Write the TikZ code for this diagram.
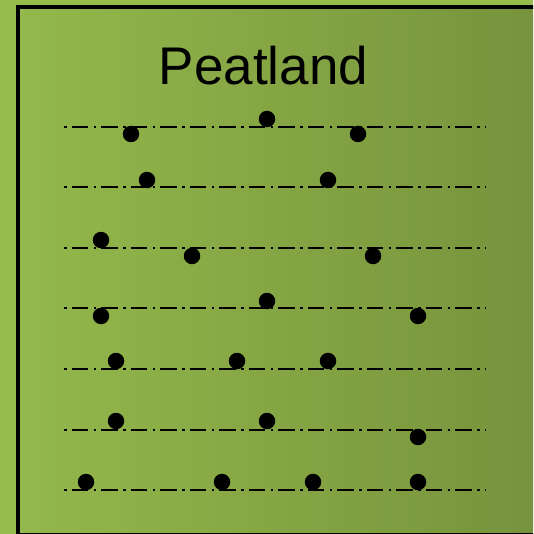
\documentclass[tikz,border=0pt]{standalone}
\usepackage{fontspec}
\setmainfont{Liberation Sans}
\usetikzlibrary{positioning}
\definecolor{peatlight}{RGB}{147, 184, 75}
\definecolor{peatdark}{RGB}{118, 145, 60}
\definecolor{peatout}{RGB}{150, 187, 77}
\tikzset{
  frame/.style={draw=black, line width=4pt, left color=peatlight, right color=peatdark},
  layerline/.style={line width=2.2pt, dash pattern=on 2.5pt off 5pt on 16.5pt off 5.5pt},
  dot/.style={circle, fill=black, inner sep=0pt, minimum size=16.5pt},
  title/.style={font=\fontsize{53}{60}\selectfont, inner sep=0pt, anchor=base}
}
\begin{document}
\begin{tikzpicture}[x=1pt, y=-1pt]

  \useasboundingbox (0,0) rectangle (533,534);
  \fill[peatout] (0,0) rectangle (533,534);
  \clip (0,0) rectangle (533,534);

  \draw[frame] (18,7) rectangle (560,535.3);
  \node[title] (name) at (263.5,85) {Peatland};

  % soil layers
  \foreach \ly in {127,187,248,308,369,430,490}
    \draw[layerline] (64,\ly) -- (486,\ly);

  % samples
  \node[dot] (d1a) at (131,134) {};
  \node[dot] (d1b) at (267,119) {};
  \node[dot] (d1c) at (358,134) {};

  \node[dot] (d2a) at (147,180) {};
  \node[dot] (d2b) at (328,180) {};

  \node[dot] (d3a) at (101,240) {};
  \node[dot] (d3b) at (192,256) {};
  \node[dot] (d3c) at (373,256) {};

  \node[dot] (d4a) at (101,316) {};
  \node[dot] (d4b) at (267,301) {};
  \node[dot] (d4c) at (418,316) {};

  \node[dot] (d5a) at (116,361) {};
  \node[dot] (d5b) at (237,361) {};
  \node[dot] (d5c) at (328,361) {};

  \node[dot] (d6a) at (116,421) {};
  \node[dot] (d6b) at (267,421) {};
  \node[dot] (d6c) at (418,437) {};

  \node[dot] (d7a) at (86,482) {};
  \node[dot] (d7b) at (222,482) {};
  \node[dot] (d7c) at (313,482) {};
  \node[dot] (d7d) at (418,482) {};

\end{tikzpicture}
\end{document}
